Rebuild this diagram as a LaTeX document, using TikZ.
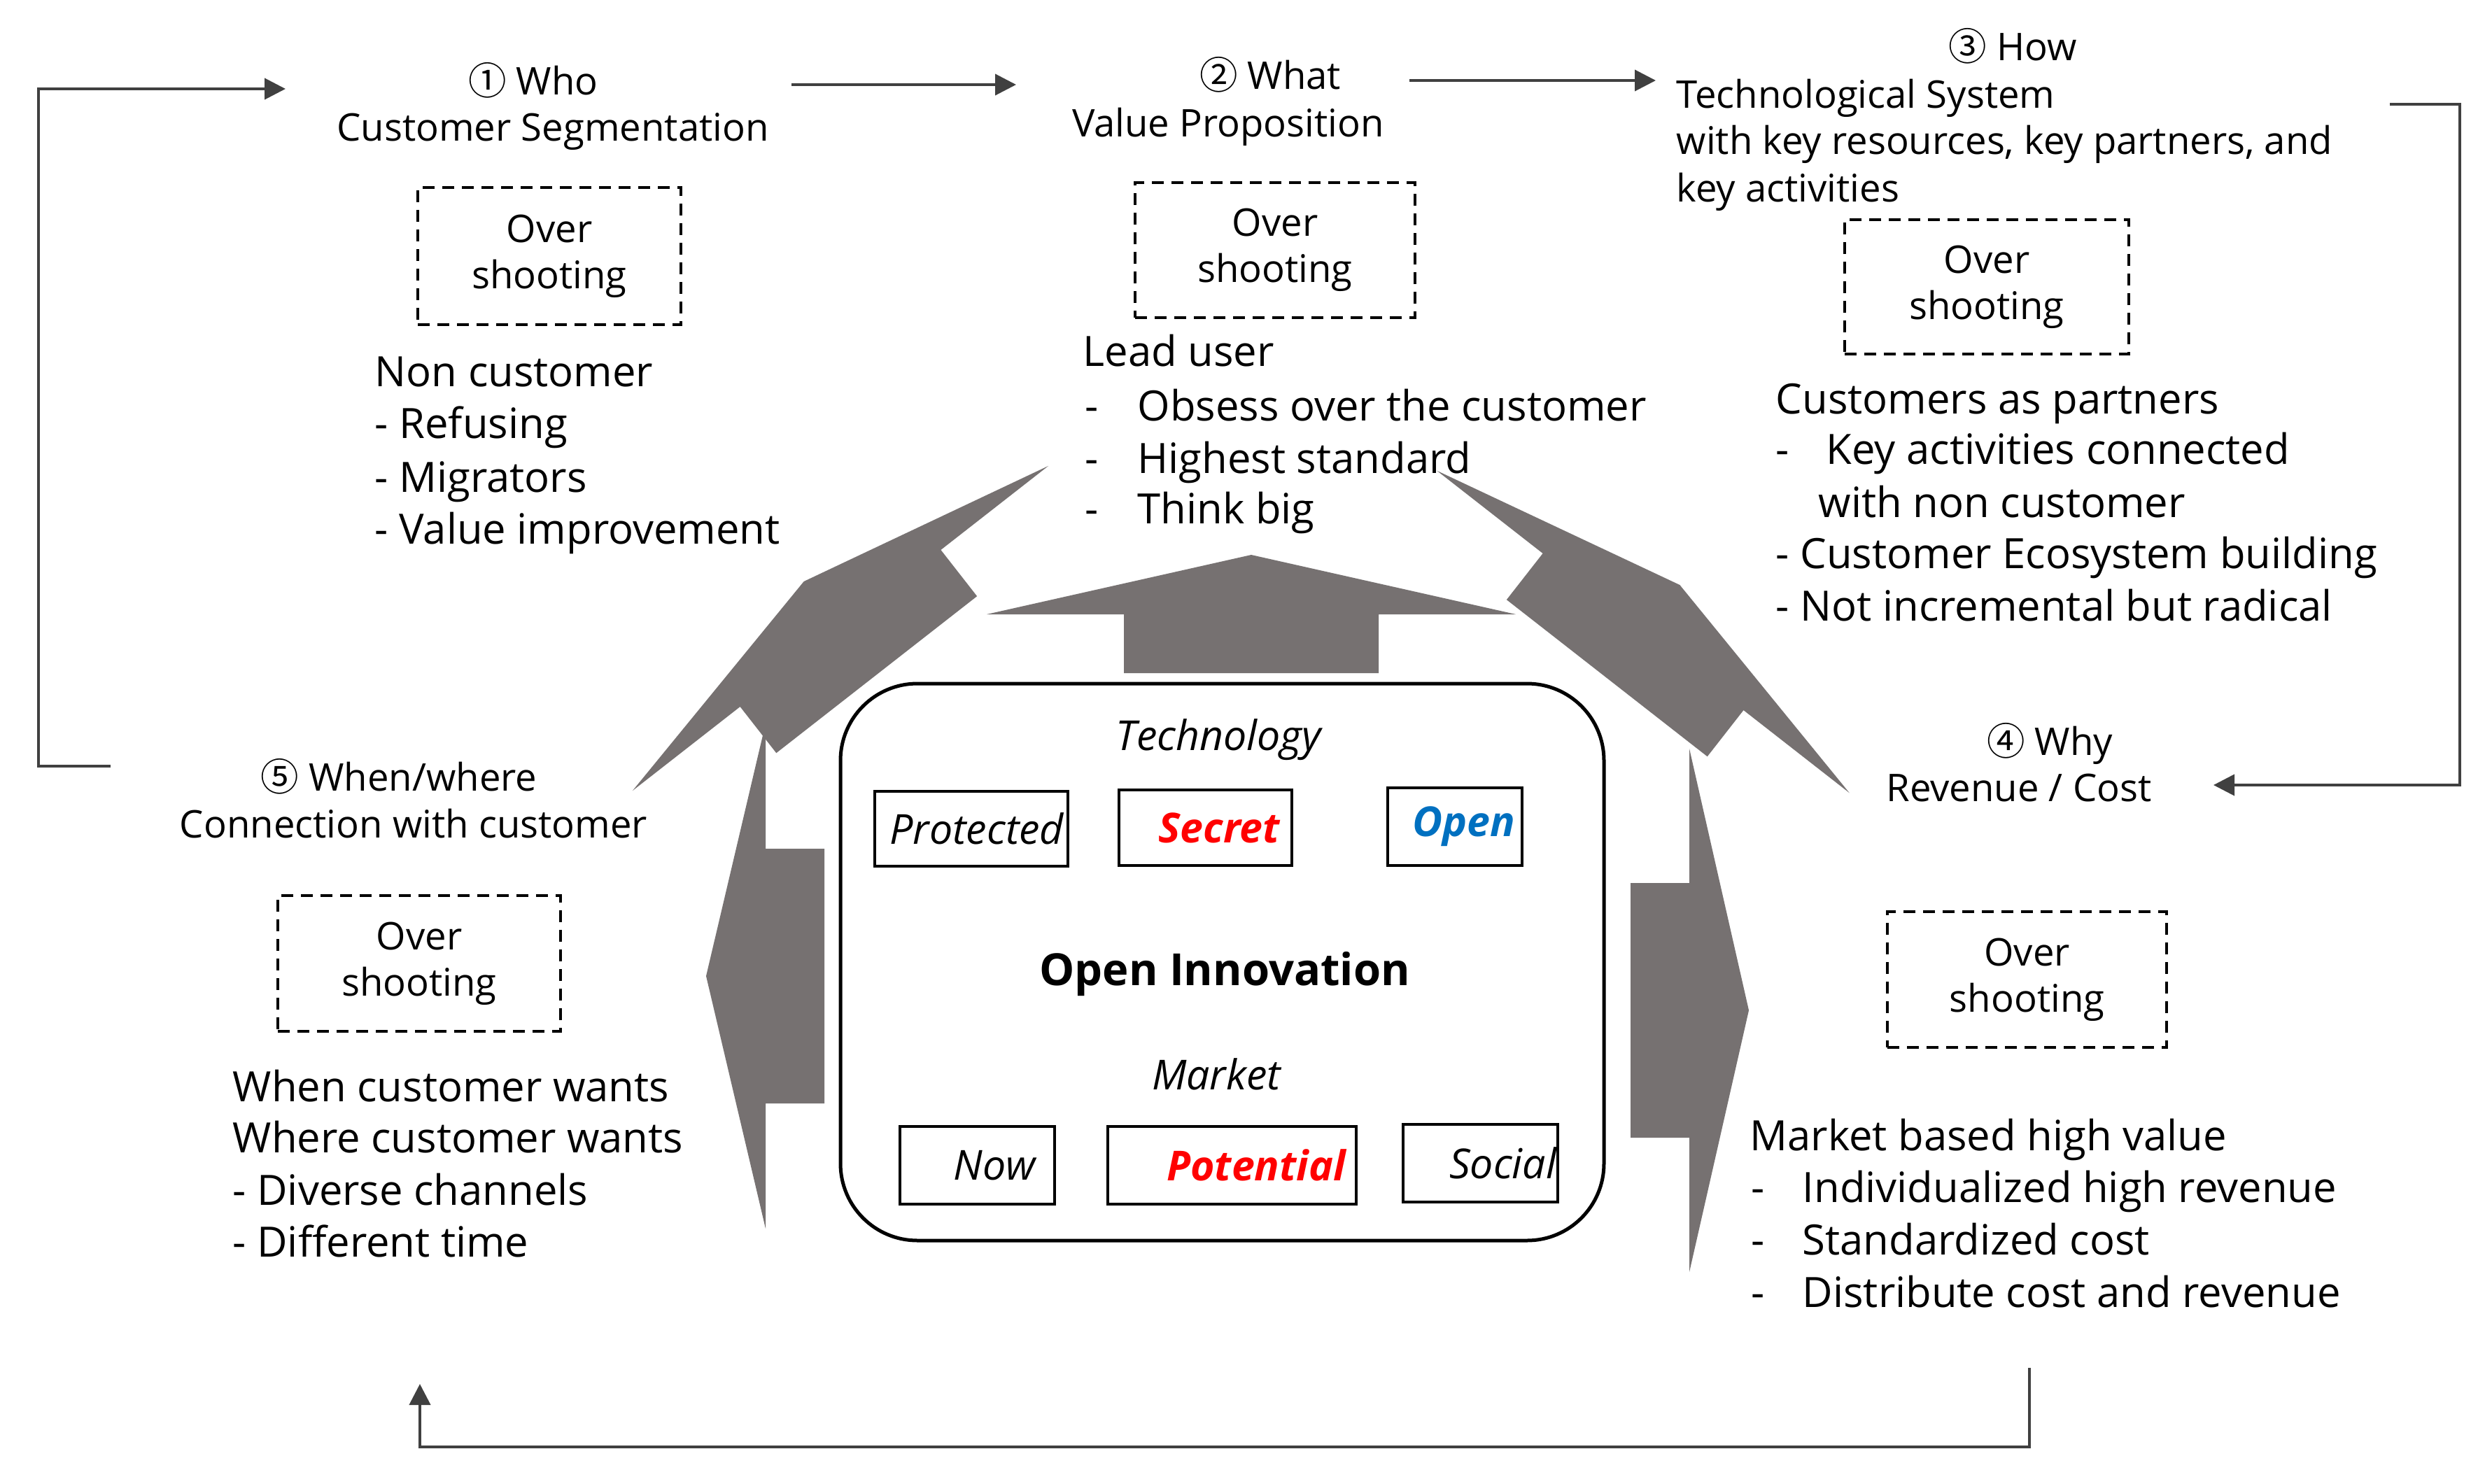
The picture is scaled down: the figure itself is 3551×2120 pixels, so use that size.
\documentclass[tikz,border=0pt]{standalone}
\usepackage{fontspec}
\setmainfont{Open Sans}
\newfontfamily\cjkfont{Noto Sans CJK KR}
\usetikzlibrary{arrows.meta}
\definecolor{arrgray}{RGB}{118,113,113}
\definecolor{openblue}{RGB}{0,112,192}
\definecolor{secretred}{RGB}{255,0,0}
\newcommand{\ilab}{\fontsize{16.8}{20}\selectfont\itshape}
\newcommand{\blockarr}[4]{%
  \fill[arrgray,shift={(#1,#2)},rotate=#3] (0,-#4) -- (85,0) -- (0,#4) -- (0,182) -- (-84,182) -- (-84,-182) -- (0,-182) -- cycle;}
\tikzset{
  head/.style={font=\fontsize{15.5}{19}\selectfont, inner sep=0pt},
  body/.style={font=\fontsize{17}{21}\selectfont, inner sep=0pt, anchor=base west},
  itx/.style={font=\ilab, inner sep=0pt},
  osbox/.style={draw, line width=0.4mm, dash pattern=on 1.7mm off 1.1mm, align=center, font=\fontsize{15.5}{18.8}\selectfont, inner sep=0pt},
  ibox/.style={draw, line width=0.45mm, fill=white, align=right, inner ysep=0pt, font=\ilab},
  conn/.style={draw=black!75, line width=0.4mm, -{Triangle[length=3mm,width=3mm]}},
}
\begin{document}
\begin{tikzpicture}[x=0.1mm,y=-0.1mm]
\useasboundingbox[fill=white] (0,0) rectangle (3551,2120);
% big gray block arrows
\blockarr{1788}{878}{90}{378}
\blockarr{1201}{898}{128}{377}
\blockarr{2348}{903}{52}{374}
\blockarr{1094}{1395}{180}{361}
\blockarr{2414}{1444}{0}{374}
% central box
\node[draw, line width=0.5mm, fill=white, rounded corners=11mm, minimum width=109.1mm, minimum height=79.6mm] (core) at (1746.5,1375) {};
\node[itx, anchor=base] (tech) at (1741,1072) {Technology};
\node[inner sep=0pt, font=\fontsize{18}{22}\selectfont\bfseries, anchor=base] (oi) at (1750,1408) {Open Innovation};
\node[itx, anchor=base] (mkt) at (1738,1557) {Market};
\node[ibox, minimum height=10.7mm, inner xsep=0.6mm, text width=26.4mm] (prot) at (1388,1184.5) {Protected};
\node[ibox, minimum height=10.8mm, inner xsep=1.7mm, text width=21.3mm, text=secretred, font=\ilab\bfseries] (secr) at (1722.5,1183) {Secret};
\node[ibox, minimum height=11.1mm, inner xsep=1.0mm, text width=17.2mm, text=openblue, font=\ilab\bfseries] (open) at (2079,1181.5) {Open};
\node[ibox, minimum height=11.1mm, inner xsep=2.7mm, text width=16.7mm] (now) at (1396.5,1665.5) {Now};
\node[ibox, minimum height=11.1mm, inner xsep=1.5mm, text width=32.5mm, text=secretred, font=\ilab\bfseries] (pot) at (1760.5,1665.5) {Potential};
\node[ibox, minimum height=11.1mm, inner xsep=0.2mm, text width=21.7mm] (soc) at (2115.5,1662.5) {Social};
% 1 Who
\node[head, anchor=base] (who1) at (762,136) {{\cjkfont ①} Who};
\node[head, anchor=base] (who2) at (790,202) {Customer Segmentation};
\node[osbox, minimum width=37.6mm, minimum height=19.6mm] (os1) at (785,366) {Over\\shooting};
\node[body] (nc1) at (535,552) {Non customer};
\node[body] (nc2) at (535,626) {- Refusing};
\node[body] (nc3) at (535,703) {- Migrators};
\node[body] (nc4) at (535,777) {- Value improvement};
% 2 What
\node[head, anchor=base] (what1) at (1815,128) {{\cjkfont ②} What};
\node[head, anchor=base] (what2) at (1755,196) {Value Proposition};
\node[osbox, minimum width=40.0mm, minimum height=19.3mm] (os2) at (1822,357.5) {Over\\shooting};
\node[body] (lu1) at (1547,523) {Lead user};
\node[body] (lu2d) at (1550,601) {-};
\node[body] (lu2) at (1625,601) {Obsess over the customer};
\node[body] (lu3d) at (1550,676) {-};
\node[body] (lu3) at (1625,676) {Highest standard};
\node[body] (lu4d) at (1550,748) {-};
\node[body] (lu4) at (1625,748) {Think big};
% 3 How
\node[head, anchor=base] (how1) at (2876,87) {{\cjkfont ③} How};
\node[head, anchor=base west] (how2) at (2395,154) {Technological System};
\node[head, anchor=base west] (how3) at (2395,221) {with key resources, key partners, and};
\node[head, anchor=base west] (how4) at (2395,288) {key activities};
\node[osbox, minimum width=40.6mm, minimum height=19.2mm] (os3) at (2839,410) {Over\\shooting};
\node[body] (cp1) at (2537,591) {Customers as partners};
\node[body] (cp2d) at (2537,663) {-};
\node[body] (cp2) at (2609,663) {Key activities connected};
\node[body] (cp3) at (2598,739) {with non customer};
\node[body] (cp4) at (2537,812) {- Customer Ecosystem building};
\node[body] (cp5) at (2537,887) {- Not incremental but radical};
% 4 Why
\node[head, anchor=base] (why1) at (2929,1079) {{\cjkfont ④} Why};
\node[head, anchor=base] (why2) at (2885,1145) {Revenue / Cost};
\node[osbox, minimum width=39.9mm, minimum height=19.4mm] (os4) at (2896.5,1400) {Over\\shooting};
\node[body] (mb1) at (2500,1644) {Market based high value};
\node[body] (mb2d) at (2502,1718) {-};
\node[body] (mb2) at (2575,1718) {Individualized high revenue};
\node[body] (mb3d) at (2502,1793) {-};
\node[body] (mb3) at (2575,1793) {Standardized cost};
\node[body] (mb4d) at (2502,1868) {-};
\node[body] (mb4) at (2575,1868) {Distribute cost and revenue};
% 5 When/where
\node[head, anchor=base] (wh1) at (570,1130) {{\cjkfont ⑤} When/where};
\node[head, anchor=base] (wh2) at (591,1197) {Connection with customer};
\node[osbox, minimum width=40.4mm, minimum height=19.4mm] (os5) at (599,1377) {Over\\shooting};
\node[body] (cw1) at (332,1574) {When customer wants};
\node[body] (cw2) at (332,1647) {Where customer wants};
\node[body] (cw3) at (332,1722) {- Diverse channels};
\node[body] (cw4) at (332,1796) {- Different time};
% connectors
\coordinate (a1s) at (1131,121);
\coordinate (a1e) at (1452,121);
\coordinate (a2s) at (2014,115);
\coordinate (a2e) at (2366,115);
\coordinate (r1) at (3415,149);
\coordinate (r2) at (3163,1122);
\coordinate (b1) at (2900,1955);
\coordinate (b2) at (600,1978);
\coordinate (l1) at (158,1095);
\coordinate (l2) at (408,127);
\draw[conn] (a1s) -- (a1e);
\draw[conn] (a2s) -- (a2e);
\draw[conn] (r1) -- ++(100,0) |- (r2);
\draw[conn] (b1) -- ++(0,113) -| (b2);
\draw[conn] (l1) -- ++(-103,0) |- (l2);
\end{tikzpicture}
\end{document}
